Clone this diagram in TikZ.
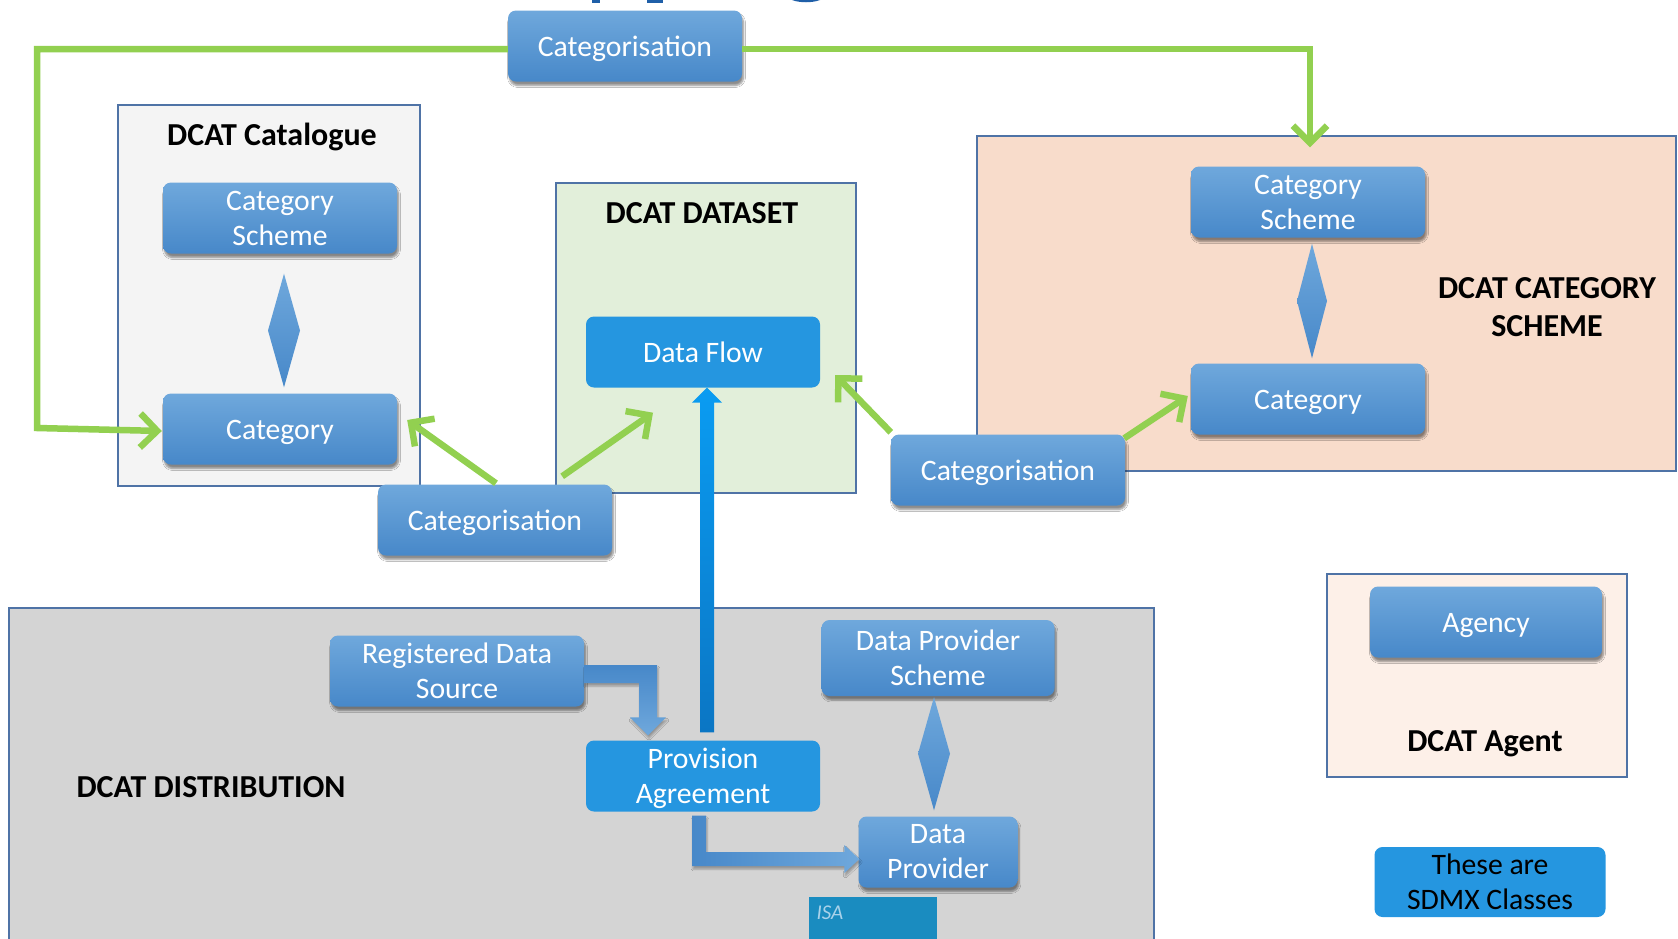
\documentclass[tikz,border=0pt]{standalone}
\usepackage{fontspec}
\setmainfont{Carlito}
\usetikzlibrary{calc,arrows.meta,shadows.blur}

\definecolor{gtop}{HTML}{6FA8DC}
\definecolor{gbot}{HTML}{4788C9}
\definecolor{flatblue}{HTML}{2596E0}
\definecolor{lgreen}{HTML}{92D050}
\definecolor{boxline}{HTML}{4F73A6}
\definecolor{catfill}{HTML}{F4F4F4}
\definecolor{dsfill}{HTML}{E2EFDA}
\definecolor{csfill}{HTML}{F8DCCB}
\definecolor{distfill}{HTML}{D4D4D4}
\definecolor{agfill}{HTML}{FDF0E8}
\definecolor{isafill}{HTML}{1A8CC0}
\definecolor{isatext}{HTML}{A9D2EA}
\definecolor{arrtop}{HTML}{0A9CF2}
\definecolor{arrbot}{HTML}{0B76C4}
\definecolor{titleblue}{HTML}{1F5FA8}

\newcommand\clsfont{\fontsize{29.7}{35}\selectfont}
\newcommand\ttlfont{\fontsize{32}{38.5}\selectfont\bfseries}

\tikzset{
  % single-line labels: fixed line box above and below the baseline
  onebox/.style={execute at begin node={\rule{0pt}{28pt}},
    execute at end node={\rule[-7pt]{0pt}{7pt}}},
  % two-line labels: fixed line box above the first baseline only
  twobox/.style={execute at begin node={\rule{0pt}{28pt}}},
  blueshape/.style={rounded corners=8pt, minimum width=234pt, minimum height=71pt,
    align=center, text=white, font=\clsfont, inner xsep=2pt, inner ysep=0.5pt},
  clsface/.style={blueshape, top color=gtop, bottom color=gbot,
    blur shadow={shadow xshift=1.5pt, shadow yshift=-4pt, shadow opacity=45, shadow blur steps=6}},
  flatface/.style={blueshape, fill=flatblue},
  cls/.style={clsface, onebox},
  clstwo/.style={clsface, twobox},
  flatcls/.style={flatface, onebox},
  flattwo/.style={flatface, twobox},
  group/.style={draw=boxline, line width=2.5pt},
  gtitle/.style={font=\ttlfont, text=black, align=center},
  garrow/.style={draw=lgreen, line width=6.5pt, line join=miter,
    -{Straight Barb[length=17pt,width=34pt]}},
  dia/.style={top color=gtop, bottom color=gbot},
}

\begin{document}
\begin{tikzpicture}[x=1pt,y=-1pt]
\clip (0,0) rectangle (1678,938);
\fill[white] (0,0) rectangle (1678,938);

% fragments of the heading above the frame
\fill[titleblue] (592,0) rectangle (600,2.5);
\fill[titleblue] (647,0) rectangle (663,2.5);
\fill[titleblue] (792,0) .. controls (800,3) and (812,3) .. (820,0) -- cycle;

% group boxes
\draw[group, fill=catfill]  (118,105) rectangle (420,486);
\draw[group, fill=dsfill]   (556,183) rectangle (856,493);
\draw[group, fill=csfill]   (977,136) rectangle (1676,471);
\draw[group, fill=distfill] (9,608) rectangle (1154,960);
\draw[group, fill=agfill]   (1327,574) rectangle (1627,777);
\fill[isafill] (809,897) rectangle (937,960);
\node[font=\fontsize{21}{24}\selectfont\itshape, text=isatext, anchor=west] (isa) at (813,913) {ISA};

% group titles
\node[gtitle] (tcat)  at (272,137) {DCAT Catalogue};
\node[gtitle] (tds)   at (702,213) {DCAT DATASET};
\node[gtitle] (tcs)   at (1547,307) {DCAT CATEGORY\\SCHEME};
\node[gtitle] (tdist) at (211,787) {DCAT DISTRIBUTION};
\node[gtitle] (tag)   at (1485,744) {DCAT Agent};

% SDMX classes
\node[cls] (catTop)   at (625,46)  {Categorisation};
\node[clstwo] (lcs)   at (280,218) {Category\\Scheme};
\node[cls] (lcat)     at (280,429) {Category};
\node[flatcls] (dflow) at (703,352) {Data Flow};
\node[cls] (catMid)   at (495,520) {Categorisation};
\node[clstwo] (rcs)   at (1308,202) {Category\\Scheme};
\node[cls] (rcat)     at (1308,399) {Category};
\node[cls] (catRight) at (1008,470) {Categorisation};
\node[clstwo, minimum width=254pt] (rds) at (457,671) {Registered Data\\Source};
\node[flattwo] (prov) at (703,776) {Provision\\\smash{Agreement}};
\node[clstwo, minimum width=233pt, minimum height=76pt] (dps) at (938,658) {Data Provider\\Scheme};
\node[clstwo, minimum width=159pt, execute at begin node={\rule{0pt}{33pt}}] (dprov) at (938,852) {Data\\Provider};
\node[cls, minimum width=232pt] (agency) at (1486,622) {Agency};
\node[flattwo, minimum width=231pt, minimum height=70pt, text=black] (sdmx) at (1490,882) {These are\\SDMX Classes};

% scheme-to-item diamonds
\coordinate (d1t) at ($(lcs.south)+(4,20)$);
\coordinate (d1b) at ($(lcat.north)+(4,-6)$);
\shade[dia] (d1t) -- ($(d1t)!0.5!(d1b)+(16,0)$) -- (d1b) -- ($(d1t)!0.5!(d1b)+(-16,0)$) -- cycle;
\coordinate (d2t) at ($(rcs.south)+(4,6)$);
\coordinate (d2b) at ($(rcat.north)+(4,-5)$);
\shade[dia] (d2t) -- ($(d2t)!0.5!(d2b)+(15,0)$) -- (d2b) -- ($(d2t)!0.5!(d2b)+(-15,0)$) -- cycle;
\coordinate (d3t) at ($(dps.south)+(-4,1)$);
\coordinate (d3b) at ($(dprov.north)+(-4,-6)$);
\shade[dia] (d3t) -- ($(d3t)!0.5!(d3b)+(16,0)$) -- (d3b) -- ($(d3t)!0.5!(d3b)+(-16,0)$) -- cycle;

% categorisation links
\coordinate (gl1) at (37,49);
\coordinate (gl2) at (37,428);
\coordinate (gr1) at (1310,49);
\draw[garrow] ($(catTop.west)+(0,3)$) -- (gl1) -- (gl2) -- ($(lcat.west)+(-1,2)$);
\draw[garrow] ($(catTop.east)+(0,3)$) -- (gr1) -- ($(rcs.north)+(2,-19)$);
\draw[garrow] ($(catMid.north)+(1,-1)$) -- ($(lcat.east)+(10,-9)$);
\draw[garrow] ($(catMid.north east)+(-50,-8)$) -- ($(dflow.south)+(-50,25)$);
\draw[garrow] ($(catRight.north west)+(0,-2)$) -- ($(dflow.east)+(15,23)$);
\draw[garrow] ($(catRight.north east)+(-1,4)$) -- ($(rcat.west)+(-3,-3)$);

% provision agreement to data flow
\coordinate (bt) at ($(dflow.south)+(4,0)$);
\coordinate (bb) at ($(prov.north)+(4,-8)$);
\shade[top color=arrtop, bottom color=arrbot]
  (bt) -- ($(bt)+(15,15)$) -- ($(bt)+(7,15)$) -- ($(bb)+(7,0)$)
  -- ($(bb)+(-7,0)$) -- ($(bt)+(-7,15)$) -- ($(bt)+(-15,15)$) -- cycle;

% registered data source to provision agreement
\coordinate (ra) at ($(rds.east)+(0,-6)$);
\coordinate (rt) at ($(prov.north)+(-55,-5)$);
\coordinate (rc) at (ra -| rt);
\shade[top color=gbot, bottom color=gtop,
  blur shadow={shadow xshift=1pt, shadow yshift=-3pt, shadow opacity=30, shadow blur steps=4}]
  (ra) -- ($(rc)+(9,0)$) -- ($(rt)+(9,-18)$) -- ($(rt)+(18,-18)$) -- (rt)
  -- ($(rt)+(-18,-18)$) -- ($(rt)+(-9,-18)$) -- ($(rc)+(-9,18)$) -- ($(ra)+(0,18)$) -- cycle;

% provision agreement to data provider
\coordinate (pa) at ($(prov.south)+(-4,4)$);
\coordinate (pt) at ($(dprov.west)+(1,7)$);
\coordinate (pc) at (pa |- pt);
\shade[left color=gbot, right color=gtop,
  blur shadow={shadow xshift=1pt, shadow yshift=-3pt, shadow opacity=30, shadow blur steps=4}]
  ($(pa)+(-7,0)$) -- ($(pa)+(7,0)$) -- ($(pc)+(7,-7)$) -- ($(pt)+(-15,-7)$)
  -- ($(pt)+(-15,-14)$) -- (pt) -- ($(pt)+(-15,14)$) -- ($(pt)+(-15,7)$)
  -- ($(pc)+(-7,7)$) -- cycle;
\end{tikzpicture}
\end{document}
